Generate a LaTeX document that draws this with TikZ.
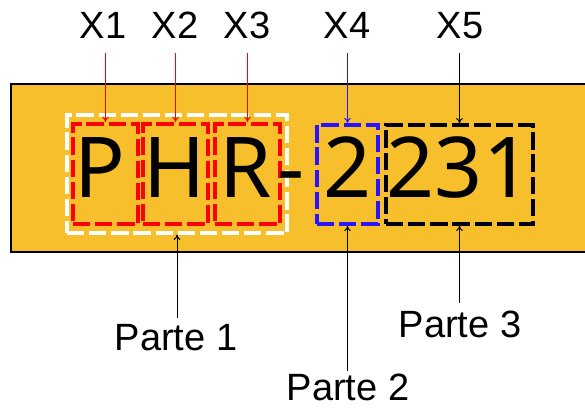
\documentclass[tikz,border=0pt]{standalone}
\usepackage{fontspec}
\setmainfont{Liberation Sans}
\newfontfamily\bigfont{Noto Sans}
\usetikzlibrary{fit,arrows.meta}
\definecolor{band}{RGB}{247,191,44}
\definecolor{myred}{RGB}{255,0,0}
\definecolor{myblue}{RGB}{40,20,255}
\begin{document}
\begin{tikzpicture}[x=0.75pt,y=-0.75pt,
  lbl/.style={font=\fontsize{28.5pt}{30pt}\selectfont, inner sep=0pt, anchor=base},
  big/.style={font=\bigfont\fontsize{63pt}{66pt}\selectfont, inner sep=0pt, anchor=base},
  dbox/.style={inner sep=0pt, line width=2.4pt, dash pattern=on 13pt off 3.6pt},
  arr/.style={line width=0.75pt, -{To[length=4pt,width=5pt]}}]
\useasboundingbox (0,0) rectangle (585,407);
\fill[band, draw=black, line width=1.5pt] (11,84) rectangle (620,252);
% boxes
\node[dbox, fit={(67,115) (287,233)}, draw=white] (w) {};
\node[dbox, fit={(73,124) (138,224)}, draw=myred, line width=3pt] (b1) {};
\node[dbox, fit={(143,124) (208,224)}, draw=myred, line width=3pt] (b2) {};
\node[dbox, fit={(215,124) (280,224)}, draw=myred, line width=3pt] (b3) {};
\node[dbox, fit={(317,125) (378,224)}, draw=myblue, line width=2.7pt] (b4) {};
\node[dbox, fit={(386,125) (533,224)}, draw=black] (b5) {};
% big text
\node[big] (tP) at (100,197) {P};
\node[big] (tH) at (175,197) {H};
\node[big] (tR) at (246,197) {R};
\node[big] (th) at (291,197) {-};
\node[big] (t2) at (348,197) {2};
\node[big] (t231) at (459,197) {231};
% top labels
\node[lbl] (X1) at (103,38) {X1};
\node[lbl] (X2) at (175,38) {X2};
\node[lbl] (X3) at (247,38) {X3};
\node[lbl] (X4) at (347,38) {X4};
\node[lbl] (X5) at (460,38) {X5};
\coordinate (s1) at (105.5,53);
\coordinate (s2) at (175.5,53);
\coordinate (s3) at (247.5,53);
\coordinate (s4) at (347.5,53);
\coordinate (s5) at (459.5,53);
\draw[arr, myred] (s1) -- (b1.north);
\draw[arr, myred] (s2) -- (b2.north);
\draw[arr, myred] (s3) -- (b3.north);
\draw[arr, myblue] (s4) -- (b4.north);
\draw[arr, black] (s5) -- (b5.north);
% bottom labels
\node[lbl] (P1) at (176,350) {Parte 1};
\node[lbl] (P2) at (348,400) {Parte 2};
\node[lbl] (P3) at (460,337) {Parte 3};
\coordinate (e1) at (177,318);
\coordinate (e2) at (347.5,371);
\coordinate (e3) at (459.5,303);
\draw[arr] (e1) -- (w.south);
\draw[arr] (e2) -- (b4.south);
\draw[arr] (e3) -- (b5.south);
\end{tikzpicture}
\end{document}
